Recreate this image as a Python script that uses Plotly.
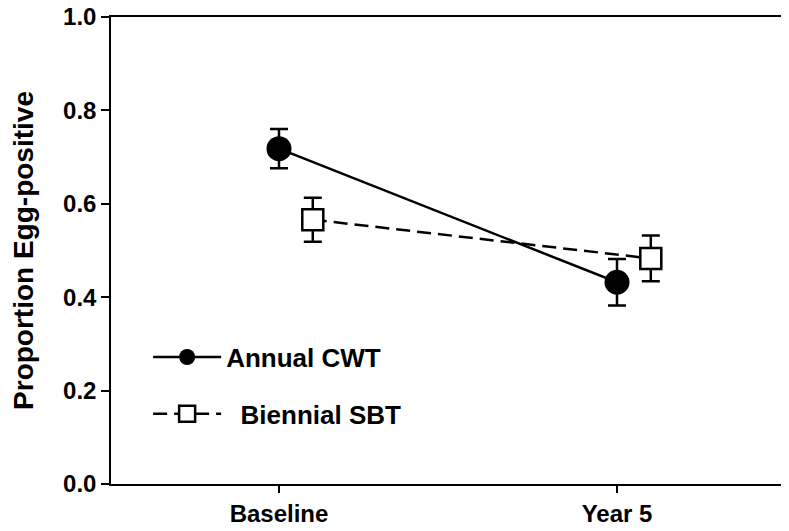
import plotly.graph_objects as go

# data
periods = ["Baseline", "Year 5"]
period_pos = [0, 1]
offset_sbt = 0.1

cwt_mean = [0.718, 0.432]
cwt_err = [0.042, 0.050]

sbt_mean = [0.566, 0.483]
sbt_err = [0.047, 0.049]

y_ticks = [0.0, 0.2, 0.4, 0.6, 0.8, 1.0]

FONT = "Liberation Sans, Arial, sans-serif"

fig = go.Figure()

fig.add_trace(go.Scatter(
    x=period_pos, y=cwt_mean,
    mode="lines+markers",
    name="Annual CWT",
    legendgroup="a",
    line=dict(color="black", width=2.5),
    marker=dict(symbol="circle", size=25, color="black"),
    error_y=dict(type="data", array=cwt_err, color="black", thickness=2.5, width=9),
))

fig.add_trace(go.Scatter(
    x=[p + offset_sbt for p in period_pos], y=sbt_mean,
    mode="lines+markers",
    name="  Biennial SBT",
    legendgroup="b",
    line=dict(color="black", width=2.5, dash="14px,7px"),
    marker=dict(symbol="square", size=21, color="white",
                line=dict(color="black", width=2.5)),
    error_y=dict(type="data", array=sbt_err, color="black", thickness=2.5, width=9),
))

# page body adds an 8px offset, so the figure is sized to fit inside it
fig.update_layout(
    width=781, height=523,
    margin=dict(l=103, r=3, t=9, b=47),
    paper_bgcolor="white",
    plot_bgcolor="white",
    font=dict(family=FONT, color="black"),
    showlegend=True,
    legend=dict(
        x=0.055, y=0.322, xanchor="left", yanchor="top",
        bgcolor="rgba(0,0,0,0)",
        font=dict(size=26, family=FONT, weight="bold"),
        traceorder="grouped",
        tracegroupgap=20,
        itemwidth=68,
    ),
    xaxis=dict(
        range=[-0.497, 1.5],
        tickmode="array", tickvals=period_pos, ticktext=periods,
        ticks="outside", ticklen=7, tickwidth=1.5, tickcolor="black",
        tickfont=dict(size=24, family=FONT, weight="bold"),
        ticklabeloverflow="allow",
        showgrid=False, zeroline=False, automargin=False,
        showline=True, linecolor="black", linewidth=1.5, mirror=True,
    ),
    yaxis=dict(
        range=[0, 1.0],
        tickmode="array", tickvals=y_ticks,
        ticktext=[f"{v:.1f}" for v in y_ticks],
        ticks="outside", ticklen=8, tickwidth=1.5, tickcolor="black",
        tickfont=dict(size=24, family=FONT, weight="bold"),
        ticklabeloverflow="allow",
        title=dict(text="Proportion Egg-positive", standoff=23,
                   font=dict(size=28, family=FONT, weight="bold")),
        showgrid=False, zeroline=False, automargin=False,
        showline=True, linecolor="black", linewidth=1.5, mirror=True,
    ),
)

fig.write_html("out.html")
